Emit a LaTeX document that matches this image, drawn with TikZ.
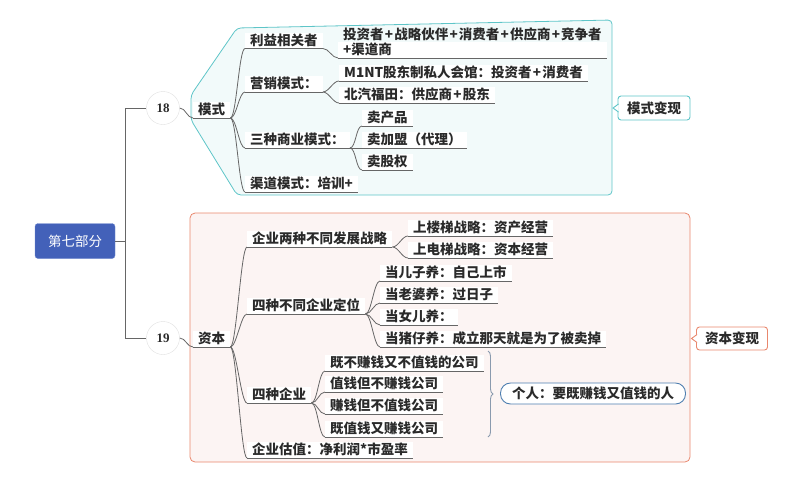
\documentclass[tikz,border=0pt]{standalone}
\usepackage{fontspec}
\setmainfont{Noto Sans CJK SC}
\newfontfamily\numfont{Liberation Serif}
\usetikzlibrary{decorations.pathreplacing}
\definecolor{rootblue}{HTML}{4361B9}
\definecolor{rootedge}{HTML}{6F89CF}
\definecolor{linegray}{HTML}{666666}
\definecolor{txt}{HTML}{2A2A2A}
\definecolor{teal1}{HTML}{5EC5C8}
\definecolor{tealfill}{HTML}{F2FAFA}
\definecolor{salmon}{HTML}{E9876D}
\definecolor{salmonfill}{HTML}{FCF4F3}
\definecolor{pillblue}{HTML}{4F7FB0}
\definecolor{bracegray}{HTML}{8A9AAE}
\newcommand\pls{\kern1.2pt+\kern1.2pt}
\begin{document}
\begin{tikzpicture}[x=1pt,y=-1pt,
  lbl/.style={anchor=south west, fill=white, text=txt, font=\fontsize{13.5}{15}\selectfont\bfseries,
    inner xsep=5pt, inner ysep=1pt, text height=11.5pt, text depth=2pt},
  conn/.style={draw=linegray, line width=0.8pt},
  numc/.style={circle, draw=black!12, fill=white, minimum size=33pt, inner sep=0pt, text=txt,
    font=\numfont\fontsize{13}{15}\selectfont\bfseries},
  sumbox/.style={rounded corners=3pt, fill=white, text=txt, line width=0.9pt,
    font=\fontsize{13.5}{15}\selectfont\bfseries, inner sep=0pt}
]
\useasboundingbox (0,0) rectangle (800,483);

% group backgrounds
\draw[teal1, fill=tealfill, line width=0.8pt, rounded corners=4pt]
  (191,95) -- (237,28) -- (612,20) -- (612,195) -- (237,195) -- (191,120) -- cycle;
\draw[salmon, fill=salmonfill, line width=0.8pt, rounded corners=5pt]
  (190,213) rectangle (690,462);

% root and numbers
\node[fill=rootblue, draw=rootedge, rounded corners=3pt, minimum width=80pt, minimum height=35pt,
  text=white, font=\fontsize{13.5}{15}\selectfont] (root) at (75,241) {第七部分};
\node[numc] (c18) at (163,108) {18};
\node[numc] (c19) at (163,338) {19};
\draw[conn] (root.east) -- (125,241) |- (c18.west);
\draw[conn] (125,241) |- (c19.west);

% ---- 模式 subtree
\node[lbl] (ms) at (193,118) {模式};
\node[lbl] (ly) at (245,48.5) {利益相关者};
\node[lbl, align=left] (ly1) at (338,58) {投资者\pls 战略伙伴\pls 消费者\pls 供应商\pls 竞争者\\+渠道商};
\node[lbl] (yx) at (245,92) {营销模式：};
\node[lbl] (yx1) at (339,81) {M1NT股东制私人会馆：投资者\pls 消费者};
\node[lbl] (yx2) at (339,103) {北汽福田：供应商\pls 股东};
\node[lbl] (sz) at (245,148) {三种商业模式：};
\node[lbl] (sz1) at (362,126) {卖产品};
\node[lbl] (sz2) at (362,148) {卖加盟（代理）};
\node[lbl] (sz3) at (362,170) {卖股权};
\node[lbl] (qd) at (245,192) {渠道模式：培训+};

% ---- 资本 subtree
\node[lbl] (zb) at (193,347) {资本};
\node[lbl] (lz) at (247,247) {企业两种不同发展战略};
\node[lbl] (lz1) at (408,236) {上楼梯战略：资产经营};
\node[lbl] (lz2) at (408,258) {上电梯战略：资本经营};
\node[lbl] (dw) at (247,314) {四种不同企业定位};
\node[lbl] (dw1) at (380,281) {当儿子养：自己上市};
\node[lbl] (dw2) at (380,303) {当老婆养：过日子};
\node[lbl] (dw3) at (380,325) {当女儿养：};
\node[lbl] (dw4) at (380,347) {当猪仔养：成立那天就是为了被卖掉};
\node[lbl] (sq) at (247,403) {四种企业};
\node[lbl] (sq1) at (325,371) {既不赚钱又不值钱的公司};
\node[lbl] (sq2) at (325,392) {值钱但不赚钱公司};
\node[lbl] (sq3) at (325,414) {赚钱但不值钱公司};
\node[lbl] (sq4) at (325,437) {既值钱又赚钱公司};
\node[lbl] (gz) at (247,458) {企业估值：净利润*市盈率};

% underlines
\foreach \n in {ms,ly,ly1,yx,yx1,yx2,sz,sz1,sz2,sz3,qd,zb,lz,lz1,lz2,dw,dw1,dw2,dw3,dw4,sq,sq1,sq2,sq3,sq4,gz}
  \draw[conn] (\n.south west) -- (\n.south east);

% connectors
\draw[conn] (c18.east) .. controls +(6,0) and +(-6,0) .. (ms.south west);
\draw[conn] (c19.east) .. controls +(6,0) and +(-6,0) .. (zb.south west);
\foreach \a/\b in {ms/ly,ms/yx,ms/sz,ms/qd,ly/ly1,yx/yx1,yx/yx2,sz/sz1,sz/sz2,sz/sz3,
  zb/lz,zb/dw,zb/sq,zb/gz,lz/lz1,lz/lz2,dw/dw1,dw/dw2,dw/dw3,dw/dw4,sq/sq1,sq/sq2,sq/sq3,sq/sq4}
  \draw[conn] (\a.south east) .. controls +(6,0) and +(-6,0) .. (\b.south west);

% summaries
\node[sumbox, draw=teal1, minimum width=72pt, minimum height=24pt] (mb) at (654,108) {模式变现};
\draw[teal1, fill=white, line width=0.9pt] (618.5,104) -- (613,108) -- (618.5,112);
\node[sumbox, draw=salmon, minimum width=71pt, minimum height=23pt] (zbx) at (732,338.5) {资本变现};
\draw[salmon, fill=white, line width=0.9pt] (697,334.5) -- (691.5,338.5) -- (697,342.5);

% brace and pill
\coordinate (bt) at (488,351);
\coordinate (bb) at (488,437);
\draw[bracegray, line width=0.9pt, decorate, decoration={brace, amplitude=5pt}] (bt) -- (bb);
\node[sumbox, draw=pillblue, rounded corners=10pt, minimum width=185pt, minimum height=21pt] (pill) at (593,393.5) {个人：要既赚钱又值钱的人};
\end{tikzpicture}
\end{document}
